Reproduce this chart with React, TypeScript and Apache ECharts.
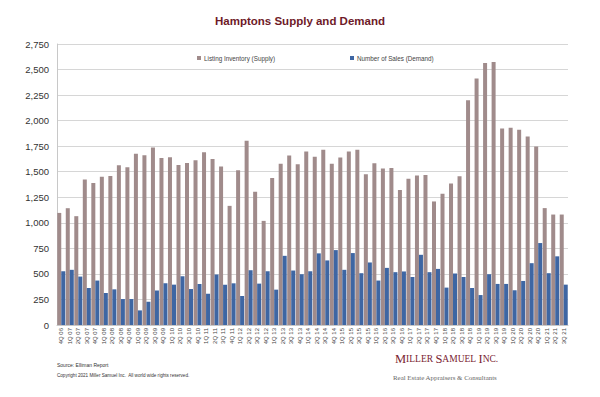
import React, { useEffect, useRef } from "react";
import * as echarts from "echarts";

const quarters: string[] = [
  "4Q 06",
  "1Q 07", "2Q 07", "3Q 07", "4Q 07",
  "1Q 08", "2Q 08", "3Q 08", "4Q 08",
  "1Q 09", "2Q 09", "3Q 09", "4Q 09",
  "1Q 10", "2Q 10", "3Q 10", "4Q 10",
  "1Q 11", "2Q 11", "3Q 11", "4Q 11",
  "1Q 12", "2Q 12", "3Q 12", "4Q 12",
  "1Q 13", "2Q 13", "3Q 13", "4Q 13",
  "1Q 14", "2Q 14", "3Q 14", "4Q 14",
  "1Q 15", "2Q 15", "3Q 15", "4Q 15",
  "1Q 16", "2Q 16", "3Q 16", "4Q 16",
  "1Q 17", "2Q 17", "3Q 17", "4Q 17",
  "1Q 18", "2Q 18", "3Q 18", "4Q 18",
  "1Q 19", "2Q 19", "3Q 19", "4Q 19",
  "1Q 20", "2Q 20", "3Q 20", "4Q 20",
  "1Q 21", "2Q 21", "3Q 21",
];

const listingInventory: number[] = [
  1097,
  1143, 1065, 1425, 1389,
  1451, 1458, 1563, 1543,
  1675, 1661, 1737, 1635,
  1642, 1566, 1586, 1612,
  1691, 1625, 1550, 1166,
  1514, 1803, 1304, 1019,
  1439, 1577, 1658, 1573,
  1698, 1646, 1714, 1577,
  1639, 1698, 1714, 1475,
  1583, 1531, 1537, 1321,
  1432, 1464, 1468, 1209,
  1284, 1386, 1455, 2200,
  2413, 2564, 2574, 1924,
  1931, 1911, 1845, 1747,
  1144, 1081, 1081,
];

const numberOfSales: number[] = [
  526,
  540, 474, 362, 435,
  313, 349, 254, 254,
  143, 228, 337, 408,
  395, 477, 352, 401,
  307, 494, 395, 408,
  284, 536, 405, 526,
  346, 677, 533, 497,
  526, 701, 632, 733,
  540, 704, 507, 612,
  435, 559, 517, 524,
  470, 687, 517, 549,
  366, 504, 470, 362,
  293, 497, 402, 402,
  340, 431, 605, 802,
  507, 672, 395,
];

const yTicks = { min: 0, max: 2750, interval: 250 };

const supplyName = "Listing Inventory (Supply)";
const demandName = "Number of Sales (Demand)";

export default function App() {
  const ref = useRef<HTMLDivElement>(null);

  useEffect(() => {
    if (!ref.current) return;
    const chart = echarts.init(ref.current, undefined, { renderer: "svg" });
    const sans = "'Liberation Sans', Arial, Helvetica, sans-serif";
    const serif = "'Liberation Serif', 'Times New Roman', serif";
    chart.setOption({
      animation: false,
      backgroundColor: "#ffffff",
      textStyle: { fontFamily: sans },
      title: {
        text: "Hamptons Supply and Demand",
        left: "center",
        top: 10,
        textStyle: { color: "#6e1a28", fontSize: 11.5, fontWeight: "bold", fontFamily: sans },
      },
      legend: [
        {
          data: [supplyName],
          left: 192,
          top: 50,
          itemWidth: 4,
          itemHeight: 4,
          itemGap: 2,
          icon: "rect",
          textStyle: { fontSize: 6.3, color: "#444", fontFamily: sans, padding: [0, 0, 0, -2] },
        },
        {
          data: [demandName],
          left: 345,
          top: 50,
          itemWidth: 4,
          itemHeight: 4,
          itemGap: 2,
          icon: "rect",
          textStyle: { fontSize: 6.3, color: "#444", fontFamily: sans, padding: [0, 0, 0, -2] },
        },
      ],
      grid: { left: 57, right: 32, top: 44, bottom: 72, containLabel: false },
      xAxis: {
        type: "category",
        data: quarters,
        axisLine: { show: true, lineStyle: { color: "#c8c8c8", width: 1 } },
        axisTick: { show: false },
        axisLabel: {
          interval: 0,
          rotate: 90,
          fontSize: 6,
          color: "#444",
          margin: 3,
          fontFamily: sans,
        },
      },
      yAxis: {
        type: "value",
        min: yTicks.min,
        max: yTicks.max,
        interval: yTicks.interval,
        axisLine: { show: true, lineStyle: { color: "#c8c8c8", width: 1 } },
        axisTick: { show: false },
        splitLine: { show: true, lineStyle: { color: "#d6d6d6", width: 1 } },
        axisLabel: {
          fontSize: 9.5,
          color: "#333",
          margin: 8,
          fontFamily: sans,
          formatter: (v: number) => v.toLocaleString("en-US"),
        },
      },
      series: [
        {
          name: supplyName,
          type: "bar",
          data: listingInventory,
          itemStyle: { color: "#a08b8b" },
          barGap: "0%",
          barCategoryGap: "6%",
        },
        {
          name: demandName,
          type: "bar",
          data: numberOfSales,
          itemStyle: { color: "#3e66a3" },
          barGap: "0%",
          barCategoryGap: "6%",
        },
      ],
      graphic: [
        {
          type: "text",
          left: 57,
          top: 362,
          style: { text: "Source: Elliman Report", fontSize: 5, fill: "#333", fontFamily: sans },
        },
        {
          type: "text",
          left: 57,
          top: 373,
          style: {
            text: "Copyright 2021 Miller Samuel Inc.  All world wide rights reserved.",
            fontSize: 4.6,
            fill: "#333",
            fontFamily: sans,
          },
        },
        {
          type: "text",
          left: 395,
          top: 352,
          style: {
            text: "{b|M}{s|ILLER }{b|S}{s|AMUEL }{b|I}{s|NC.}",
            rich: {
              b: { fontSize: 12.5, fill: "#7a2331", fontFamily: serif },
              s: { fontSize: 9.5, fill: "#7a2331", fontFamily: serif },
            },
          },
        },
        {
          type: "text",
          left: 393,
          top: 374,
          style: {
            text: "Real Estate Appraisers & Consultants",
            fontSize: 6.9,
            fill: "#666",
            fontFamily: serif,
          },
        },
      ],
    });
    return () => chart.dispose();
  }, []);

  return (
    <div
      ref={ref}
      style={{ position: "fixed", left: 0, top: 0, width: 600, height: 397 }}
    />
  );
}
